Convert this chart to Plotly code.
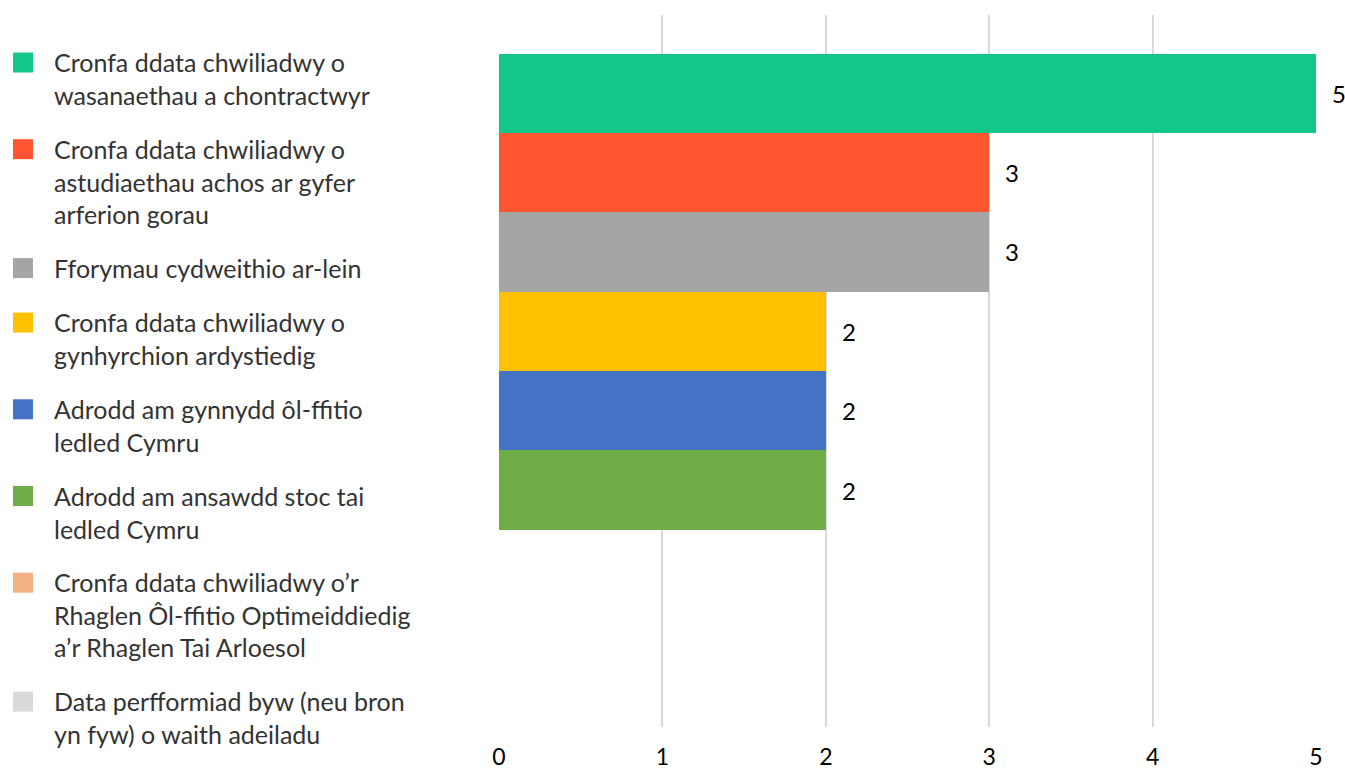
import plotly.graph_objects as go

categories = [
    "Cronfa ddata chwiliadwy o<br>wasanaethau a chontractwyr",
    "Cronfa ddata chwiliadwy o<br>astudiaethau achos ar gyfer<br>arferion gorau",
    "Fforymau cydweithio ar-lein",
    "Cronfa ddata chwiliadwy o<br>gynhyrchion ardystiedig",
    "Adrodd am gynnydd ôl-ffitio<br>ledled Cymru",
    "Adrodd am ansawdd stoc tai<br>ledled Cymru",
    "Cronfa ddata chwiliadwy o’r<br>Rhaglen Ôl-ffitio Optimeiddiedig<br>a’r Rhaglen Tai Arloesol",
    "Data perfformiad byw (neu bron<br>yn fyw) o waith adeiladu",
]
values = [5, 3, 3, 2, 2, 2, 0, 0]
colors = ["#13C78A", "#FF5631", "#A5A5A5", "#FFC000", "#4472C4", "#70AD47", "#F4B183", "#D9D9D9"]
x_ticks = [0, 1, 2, 3, 4, 5]

W, H = 1345, 769
L, R, T, B = 499, 29, 15, 42
plot_h = H - T - B

fig = go.Figure()
fig.add_trace(go.Bar(
    y=list(range(len(categories))),
    x=values,
    orientation="h",
    marker=dict(color=colors, line=dict(width=0)),
    width=1.0,
    showlegend=False,
    hoverinfo="x",
))

# data labels (skip zero values, as in the reference)
for i, v in enumerate(values):
    if v:
        fig.add_annotation(x=v, y=i, xref="x", yref="y", text=str(v),
                           showarrow=False, xanchor="left", yanchor="middle",
                           xshift=14, font=dict(family="Lato", size=24, color="#000000"))

# manual legend (pixel positions in window coordinates)
def py(ypix):
    return (H - B - ypix) / plot_h

def px(xpix):
    return (xpix - L) / (W - L - R)

line_h = 32.2
gap = 54.5
y_first = 62.5
sq = 20
for name, col in zip(categories, colors):
    n = name.count("<br>") + 1
    fig.add_shape(type="rect", xref="paper", yref="paper",
                  x0=px(13), x1=px(13 + sq), y0=py(y_first - sq / 2), y1=py(y_first + sq / 2),
                  fillcolor=col, line=dict(width=0), layer="above")
    yc = y_first + (n - 1) * line_h / 2
    fig.add_annotation(x=px(52), y=py(yc), xref="paper", yref="paper", text=name,
                       showarrow=False, xanchor="left", yanchor="middle", align="left",
                       font=dict(family="Lato", size=25, color="#333333"))
    y_first = y_first + (n - 1) * line_h + gap

fig.update_layout(
    width=W, height=H,
    margin=dict(l=L, r=R, t=T, b=B, autoexpand=False),
    paper_bgcolor="white", plot_bgcolor="white",
    bargap=0,
    xaxis=dict(range=[0, 5], tickvals=x_ticks, showgrid=True, gridcolor="#D9D9D9", gridwidth=2,
               zeroline=False, showline=False, ticks="", automargin=False,
               tickfont=dict(family="Lato", size=23, color="#000000"), ticklabelstandoff=14),
    yaxis=dict(range=[7.985, -0.985], showticklabels=False, showgrid=False,
               zeroline=False, showline=False, automargin=False),
)

fig.write_html(
    "out.html",
    config={"displayModeBar": False},
    post_script="document.body.style.margin='0';document.body.style.overflow='hidden';",
)
